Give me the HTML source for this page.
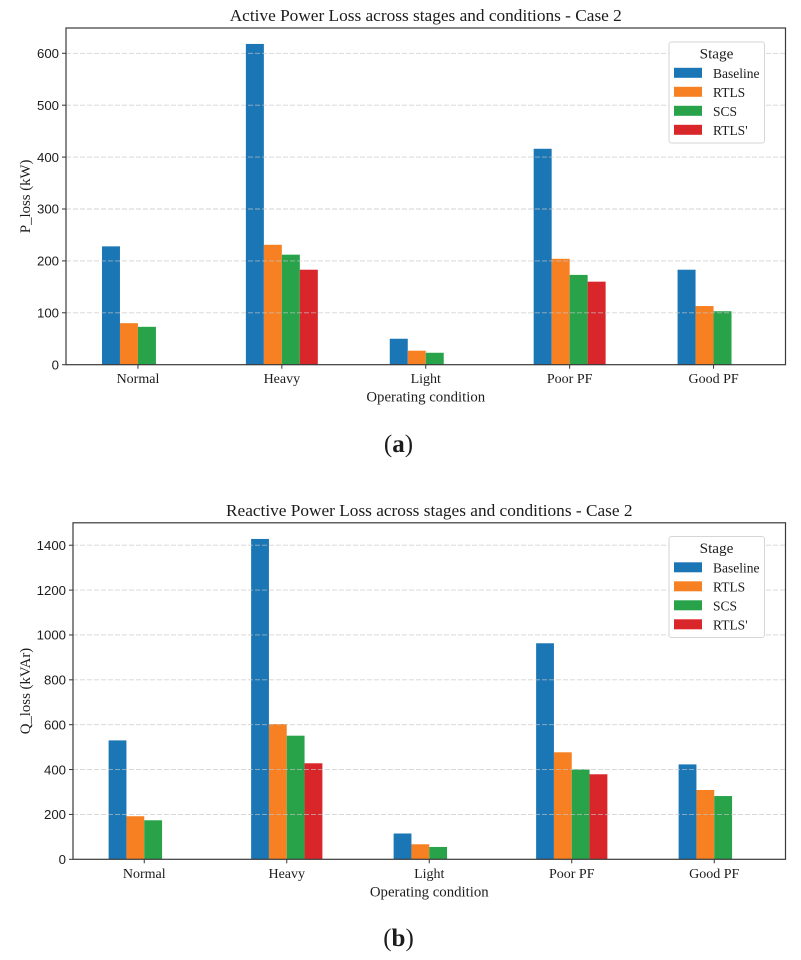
<!DOCTYPE html>
<html lang="en">
<head>
<meta charset="utf-8">
<title>Power Loss across stages and conditions - Case 2</title>
<style>
html,body{margin:0;padding:0;background:#fff;}
svg{display:block;}
text{font-family:"Liberation Serif",serif;fill:#1c1c1c;}
.tick-y{font-family:"Liberation Sans",sans-serif;font-size:13.2px;}
.tick-x{font-size:14px;}
.title{font-size:17.3px;}
.axis-label{font-size:14.8px;}
.legend-text{font-size:13.5px;}
.legend-title{font-size:15.2px;}
.caption{font-size:25px;}
</style>
</head>
<body>
<svg id="figure" xmlns="http://www.w3.org/2000/svg" width="801" height="960" viewBox="0 0 801 960"></svg>
<script>
const categories = ["Normal", "Heavy", "Light", "Poor PF", "Good PF"];
const stages = ["Baseline", "RTLS", "SCS", "RTLS'"];
const stageColors = ["#1a76b5", "#f78122", "#28a34a", "#d9262b"];

const pBaseline = [228, 618, 50, 416, 183];
const pRtls = [80, 231, 27, 204, 113];
const pScs = [73, 212, 23, 173, 103];
const pRtlsPrime = [null, 183, null, 160, null];
const pTicks = [0, 100, 200, 300, 400, 500, 600];

const qBaseline = [530, 1428, 115, 963, 423];
const qRtls = [192, 603, 67, 477, 309];
const qScs = [174, 551, 55, 401, 282];
const qRtlsPrime = [null, 428, null, 379, null];
const qTicks = [0, 200, 400, 600, 800, 1000, 1200, 1400];

const NS = "http://www.w3.org/2000/svg";
const svg = document.getElementById("figure");

function mk(parent, tag, attrs, text) {
  const el = document.createElementNS(NS, tag);
  for (const k in attrs) el.setAttribute(k, attrs[k]);
  if (text !== undefined) el.textContent = text;
  parent.appendChild(el);
  return el;
}

function drawChart(cfg) {
  const g = mk(svg, "g", {});
  
  

  const xScale = function (v) {
    return cfg.left + (v + 0.5) * (cfg.right - cfg.left) / categories.length;
  };
  const yScale = function (v) {
    return cfg.bottom - (v / cfg.yMax) * (cfg.bottom - cfg.top);
  };
  const barW = 0.125;

  // bars
  cfg.series.forEach(function (values, s) {
    values.forEach(function (v, c) {
      if (v === null) return;
      const x0 = xScale(c + (s - 2) * barW);
      const x1 = xScale(c + (s - 1) * barW);
      const bar = mk(g, "rect", {
        x: x0, y: yScale(v), width: x1 - x0, height: yScale(0) - yScale(v),
        fill: stageColors[s]
      });
      
      
    });
  });

  // grid
  cfg.ticks.forEach(function (t) {
    if (t === 0) return;
    const line = mk(g, "line", {
      x1: cfg.left, x2: cfg.right, y1: yScale(t), y2: yScale(t),
      stroke: "#c4c4c4", "stroke-opacity": "0.75", "stroke-width": "0.9", "stroke-dasharray": "5 2"
    });
    
    
  });

  // y ticks
  cfg.ticks.forEach(function (t) {
    const tick = mk(g, "line", {
      x1: cfg.left - 4, x2: cfg.left, y1: yScale(t), y2: yScale(t),
      stroke: "#333", "stroke-width": "1"
    });
    
    
    const label = mk(g, "text", {
      x: cfg.left - 7, y: yScale(t) + 4.7, "text-anchor": "end", "class": "tick-y"
    }, String(t));
    
    
  });

  // x ticks
  categories.forEach(function (c, i) {
    const tick = mk(g, "line", {
      x1: xScale(i), x2: xScale(i), y1: cfg.bottom, y2: cfg.bottom + 4,
      stroke: "#333", "stroke-width": "1"
    });
    
    
    const label = mk(g, "text", {
      x: xScale(i), y: cfg.bottom + 18.5, "text-anchor": "middle", "class": "tick-x"
    }, c);
    
    
  });

  // frame
  const frame = mk(g, "rect", {
    x: cfg.left, y: cfg.top, width: cfg.right - cfg.left, height: cfg.bottom - cfg.top,
    fill: "none", stroke: "#3a3a3a", "stroke-width": "1.2"
  });
  
  

  // titles
  const title = mk(g, "text", {
    x: (cfg.left + cfg.right) / 2, y: cfg.top - 7, "text-anchor": "middle", "class": "title"
  }, cfg.title);
  
  

  const xTitle = mk(g, "text", {
    x: (cfg.left + cfg.right) / 2, y: cfg.bottom + 37, "text-anchor": "middle", "class": "axis-label"
  }, "Operating condition");
  
  

  const cy = (cfg.top + cfg.bottom) / 2;
  const yTitle = mk(g, "text", {
    x: 30, y: cy, "text-anchor": "middle", "class": "axis-label",
    transform: "rotate(-90 30 " + cy + ")"
  }, cfg.yTitle);
  
  

  // legend
  const lg = mk(g, "g", {});
  
  
  const box = mk(lg, "rect", {
    x: 669, y: cfg.legendY, width: 95.5, height: 101, rx: 2.5, ry: 2.5,
    fill: "#fff", "fill-opacity": "0.95", stroke: "#d6d6d6", "stroke-width": "1"
  });
  
  
  const lt = mk(lg, "text", {
    x: 716.5, y: cfg.legendY + 16.5, "text-anchor": "middle", "class": "legend-title"
  }, "Stage");
  
  
  stages.forEach(function (s, i) {
    const y = cfg.legendY + 25.8 + i * 19;
    const sw = mk(lg, "rect", { x: 674, y: y, width: 28, height: 10, fill: stageColors[i] });
    
    
    const tx = mk(lg, "text", { x: 713, y: y + 10.3, "class": "legend-text" }, s);
    
    
  });

  // caption
  const cap = mk(svg, "text", { x: 398.5, y: cfg.captionY, "text-anchor": "middle", "class": "caption" });
  
  
  mk(cap, "tspan", {}, "(");
  mk(cap, "tspan", { "font-weight": "bold" }, cfg.caption);
  mk(cap, "tspan", {}, ")");
}

drawChart({
  name: "active-power-chart",
  title: "Active Power Loss across stages and conditions - Case 2",
  yTitle: "P_loss (kW)",
  left: 66, right: 785.5, top: 28, bottom: 364.7, yMax: 648.7,
  ticks: pTicks,
  series: [pBaseline, pRtls, pScs, pRtlsPrime],
  legendY: 42, caption: "a", captionY: 452
});

drawChart({
  name: "reactive-power-chart",
  title: "Reactive Power Loss across stages and conditions - Case 2",
  yTitle: "Q_loss (kVAr)",
  left: 73, right: 785.5, top: 522.8, bottom: 859.3, yMax: 1500,
  ticks: qTicks,
  series: [qBaseline, qRtls, qScs, qRtlsPrime],
  legendY: 536.5, caption: "b", captionY: 946
});
</script>
</body>
</html>
